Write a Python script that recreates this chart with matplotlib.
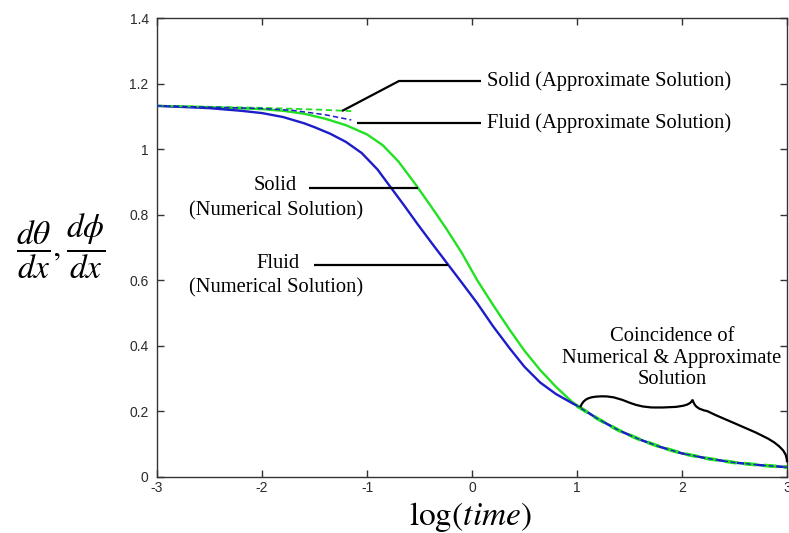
import matplotlib
matplotlib.use("Agg")
import matplotlib.pyplot as plt
from matplotlib.path import Path
from matplotlib.patches import PathPatch
from matplotlib.ticker import FuncFormatter

# ---------------- data ----------------
solid_num_x = [-3.0, -2.5, -2.0, -1.8, -1.6, -1.4, -1.2, -1.0, -0.85, -0.7, -0.55, -0.4,
               -0.25, -0.1, 0.05, 0.2, 0.35, 0.5, 0.65, 0.8, 0.95, 1.03,
               1.2, 1.4, 1.6, 1.8, 2.0, 2.25, 2.5, 2.75, 3.0]
solid_num_y = [1.132, 1.128, 1.122, 1.117, 1.108, 1.093, 1.073, 1.045, 1.012, 0.962, 0.898, 0.830,
               0.760, 0.685, 0.600, 0.525, 0.453, 0.385, 0.326, 0.275, 0.230, 0.212,
               0.177, 0.142, 0.114, 0.091, 0.072, 0.056, 0.044, 0.036, 0.030]

fluid_num_x = [-3.0, -2.5, -2.2, -2.0, -1.8, -1.6, -1.5, -1.35, -1.2, -1.05, -0.9, -0.78,
               -0.65, -0.52, -0.38, -0.24, -0.1, 0.05, 0.2, 0.36, 0.5, 0.65, 0.8, 0.95, 1.03,
               1.2, 1.4, 1.6, 1.8, 2.0, 2.25, 2.5, 2.75, 3.0]
fluid_num_y = [1.132, 1.125, 1.117, 1.110, 1.098, 1.079, 1.067, 1.047, 1.022, 0.988, 0.938, 0.886,
               0.830, 0.772, 0.712, 0.653, 0.594, 0.530, 0.460, 0.392, 0.336, 0.288, 0.253, 0.226, 0.212,
               0.177, 0.142, 0.114, 0.091, 0.072, 0.056, 0.044, 0.036, 0.030]

# approximate solutions: early-time branch
solid_apx_early_x = [-3.0, -2.0, -1.5, -1.15]
solid_apx_early_y = [1.132, 1.126, 1.121, 1.116]
fluid_apx_early_x = [-3.0, -2.0, -1.7, -1.4, -1.15]
fluid_apx_early_y = [1.132, 1.124, 1.118, 1.105, 1.089]
# approximate solutions: late-time branch (coincides with numerical)
apx_late_x = [1.0, 1.2, 1.4, 1.6, 1.8, 2.0, 2.25, 2.5, 2.75, 3.0]
apx_late_y = [0.217, 0.177, 0.142, 0.114, 0.091, 0.072, 0.056, 0.044, 0.036, 0.030]

x_ticks = [-3, -2, -1, 0, 1, 2, 3]
y_ticks = [0, 0.2, 0.4, 0.6, 0.8, 1.0, 1.2, 1.4]

# ---------------- style ----------------
plt.rcParams['mathtext.fontset'] = 'stix'
plt.rcParams['axes.unicode_minus'] = False
GREEN = '#22e022'
BLUE = '#1c1cc8'
SERIF = 'Liberation Serif'
FS = 14.8

W, H = 789, 533
fig = plt.figure(figsize=(W / 100, H / 100), dpi=100)
ax = fig.add_axes([157 / W, 1 - 477 / H, (787 - 157) / W, (477 - 18) / H])

ax.plot(solid_num_x, solid_num_y, color=GREEN, lw=1.7, zorder=3)
ax.plot(fluid_num_x, fluid_num_y, color=BLUE, lw=1.7, zorder=3)
dash = (0, (3.5, 2.0))
ax.plot(solid_apx_early_x, solid_apx_early_y, color=GREEN, lw=1.3, ls=dash, zorder=4)
ax.plot(fluid_apx_early_x, fluid_apx_early_y, color=BLUE, lw=1.1, ls=dash, zorder=4)
ax.plot(apx_late_x, apx_late_y, color=GREEN, lw=2.6, ls=dash, zorder=4)
ax.plot(apx_late_x, apx_late_y, color=BLUE, lw=1.0, ls=(2, (3.5, 2.0)), zorder=5)

ax.set_xlim(-3, 3)
ax.set_ylim(0, 1.4)
ax.set_xticks(x_ticks)
ax.set_yticks(y_ticks)
fmt = FuncFormatter(lambda v, p: '%g' % v)
ax.xaxis.set_major_formatter(fmt)
ax.yaxis.set_major_formatter(fmt)
ax.tick_params(direction='in', length=5, width=1, color='#333333', top=True, right=True,
               labelsize=10, labelcolor='#2a2a2a')
ax.tick_params(axis='y', pad=6)
ax.tick_params(axis='x', pad=3)
for lab in ax.get_xticklabels() + ax.get_yticklabels():
    lab.set_fontfamily('Liberation Sans')
for s in ax.spines.values():
    s.set_color('#333333')
    s.set_linewidth(1.0)

# ---------------- annotations ----------------
def px2d(px, py):
    return (-3 + (px - 157) / 105.0, (477 - py) / (459 / 1.4))

lk = dict(color='black', lw=1.6, solid_capstyle='butt', zorder=6, clip_on=False)
# Solid approximate
p0, p1, p2 = px2d(342, 111), px2d(399, 81), px2d(481, 81)
ax.plot([p0[0], p1[0], p2[0]], [p0[1], p1[1], p2[1]], **lk)
t = px2d(487, 81)
ax.text(t[0], t[1], 'Solid (Approximate Solution)', family=SERIF, fontsize=FS,
        ha='left', va='center')
# Fluid approximate
p0, p1 = px2d(357, 123), px2d(481, 123)
ax.plot([p0[0], p1[0]], [p0[1], p1[1]], **lk)
t = px2d(487, 123)
ax.text(t[0], t[1], 'Fluid (Approximate Solution)', family=SERIF, fontsize=FS,
        ha='left', va='center')
# Solid numerical
p0, p1 = px2d(309, 188), px2d(418, 188)
ax.plot([p0[0], p1[0]], [p0[1], p1[1]], **lk)
t = px2d(275, 186)
ax.text(t[0], t[1], 'Solid', family=SERIF, fontsize=FS, ha='center', va='center')
t = px2d(276, 211)
ax.text(t[0], t[1], '(Numerical Solution)', family=SERIF, fontsize=FS, ha='center', va='center')
# Fluid numerical
p0, p1 = px2d(314, 265), px2d(448, 265)
ax.plot([p0[0], p1[0]], [p0[1], p1[1]], **lk)
t = px2d(278, 264)
ax.text(t[0], t[1], 'Fluid', family=SERIF, fontsize=FS, ha='center', va='center')
t = px2d(276, 288)
ax.text(t[0], t[1], '(Numerical Solution)', family=SERIF, fontsize=FS, ha='center', va='center')
# Coincidence
t = px2d(672, 358)
ax.text(t[0], t[1], 'Coincidence of\nNumerical & Approximate\nSolution', family=SERIF,
        fontsize=FS, ha='center', va='center', linespacing=1.15)

# curly brace
verts = [(1.03, 0.212),
         (1.06, 0.236), (1.10, 0.246), (1.25, 0.246),
         (1.45, 0.246), (1.50, 0.212), (1.75, 0.212),
         (1.95, 0.212), (2.08, 0.215), (2.10, 0.236),
         (2.12, 0.215), (2.15, 0.207), (2.24, 0.201),
         (2.45, 0.168), (2.80, 0.128), (2.90, 0.100),
         (2.97, 0.083), (3.00, 0.068), (3.00, 0.045)]
codes = [Path.MOVETO] + [Path.CURVE4] * (len(verts) - 1)
ax.add_patch(PathPatch(Path(verts, codes), fill=False, ec='black', lw=1.6, zorder=6,
                       clip_on=False))

# axis labels
fig.text(61 / W, 1 - 246 / H, r'$\dfrac{d\theta}{dx},\dfrac{d\phi}{dx}$', fontsize=24,
         ha='center', va='center')
fig.text(470 / W, 1 - 525 / H, r'$\mathrm{log}(\mathit{time})$', fontsize=24,
         ha='center', va='baseline')

fig.savefig('out.png', dpi=100)
